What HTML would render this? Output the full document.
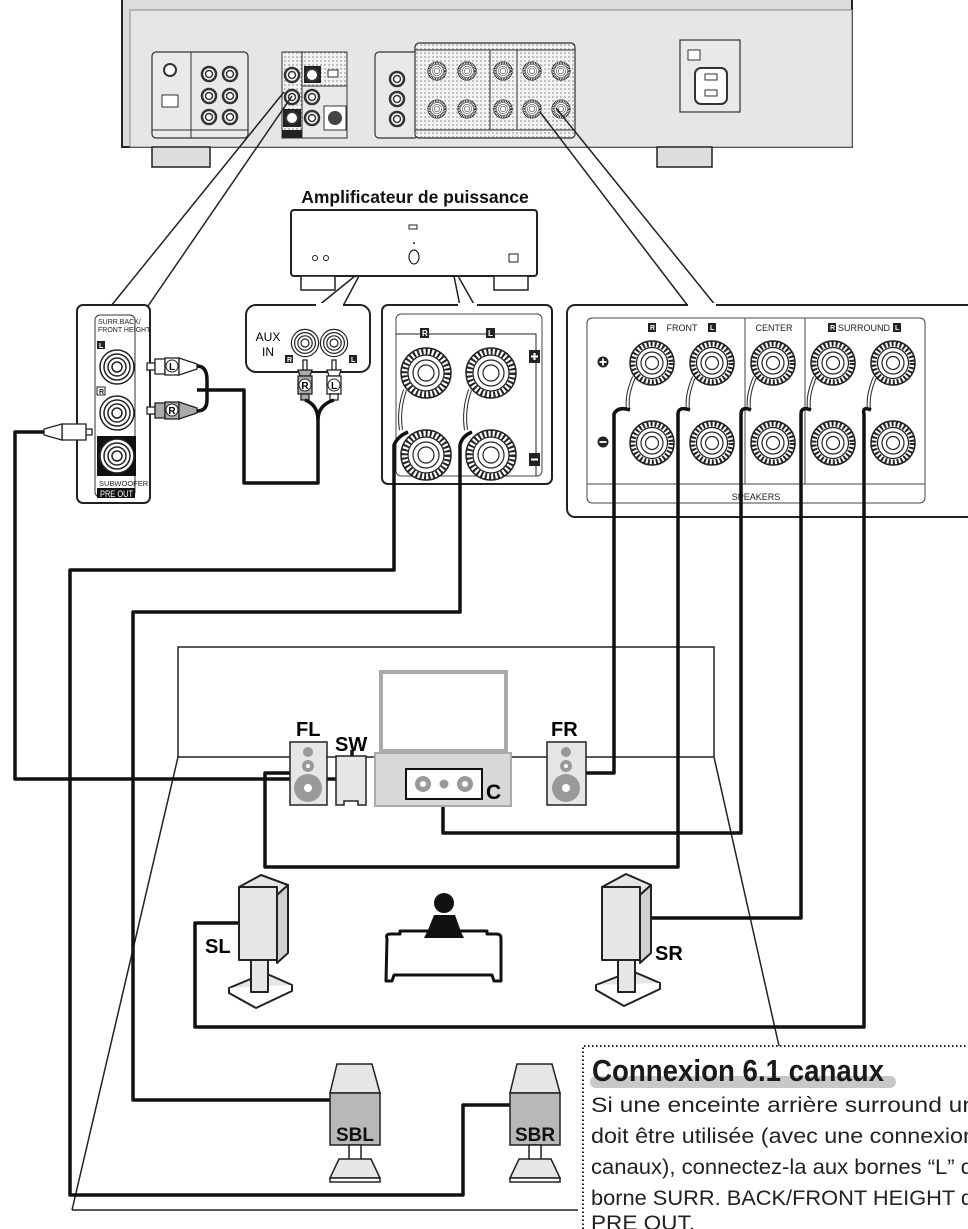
<!DOCTYPE html>
<html><head><meta charset="utf-8"><style>
html,body{margin:0;padding:0;background:#fff;}
svg{display:block;}
text{font-family:"Liberation Sans",sans-serif;}
</style></head><body>
<svg width="968" height="1229" viewBox="0 0 968 1229" xmlns="http://www.w3.org/2000/svg">
<defs>
<g id="term">
  <circle r="25" fill="#fff" stroke="#222" stroke-width="1.5"/>
  <circle r="21.5" fill="none" stroke="#222" stroke-width="6" stroke-dasharray="2 2.2"/>
  <circle r="18" fill="#fff" stroke="#222" stroke-width="1.2"/>
  <circle r="13" fill="none" stroke="#222" stroke-width="1.2"/>
  <circle r="8" fill="none" stroke="#222" stroke-width="1.2"/>
</g>
<g id="term2">
  <circle r="22" fill="#fff" stroke="#222" stroke-width="1.5"/>
  <circle r="19" fill="none" stroke="#222" stroke-width="5" stroke-dasharray="2 2"/>
  <circle r="15.5" fill="#fff" stroke="#222" stroke-width="1.2"/>
  <circle r="11" fill="none" stroke="#222" stroke-width="1.2"/>
  <circle r="6.5" fill="none" stroke="#222" stroke-width="1.2"/>
</g>
<g id="rca">
  <circle r="17" fill="#fff" stroke="#222" stroke-width="1.5"/>
  <circle r="13" fill="none" stroke="#222" stroke-width="1.5"/>
  <circle r="9" fill="none" stroke="#222" stroke-width="1.5"/>
  <circle r="5" fill="none" stroke="#222" stroke-width="1.5"/>
</g>
<g id="mini">
  <circle r="7" fill="#fff" stroke="#333" stroke-width="2.5"/>
  <circle r="3.5" fill="none" stroke="#333" stroke-width="1.5"/>
</g>
<pattern id="dots" width="4" height="4" patternUnits="userSpaceOnUse"><rect width="4" height="4" fill="#f2f2f2"/><circle cx="1" cy="1" r="0.7" fill="#777"/></pattern>
</defs>

<!-- Receiver -->
<rect x="122" y="-5" width="730" height="152" fill="#dcdcdc" stroke="#222" stroke-width="2"/>
<rect x="130" y="10" width="722" height="137" fill="#e6e6e6" stroke="#888" stroke-width="1"/>
<rect x="152" y="147" width="58" height="20" fill="#ddd" stroke="#222" stroke-width="1.5"/>
<rect x="657" y="147" width="55" height="20" fill="#ddd" stroke="#222" stroke-width="1.5"/>
<rect x="152" y="52" width="96" height="86" rx="4" fill="#e9e9e9" stroke="#333" stroke-width="1.2"/>
<line x1="191" y1="52" x2="191" y2="138" stroke="#333"/><line x1="152" y1="130" x2="248" y2="130" stroke="#333"/>
<circle cx="170" cy="70" r="6" fill="#fff" stroke="#333" stroke-width="2"/>
<rect x="162" y="95" width="16" height="12" fill="#fff" stroke="#333"/>
<use href="#mini" x="209" y="74"/><use href="#mini" x="230" y="74"/>
<use href="#mini" x="209" y="96"/><use href="#mini" x="230" y="96"/>
<use href="#mini" x="209" y="117"/><use href="#mini" x="230" y="117"/>
<rect x="282" y="52" width="20" height="86" fill="url(#dots)" stroke="#333"/>
<rect x="302" y="52" width="45" height="34" fill="url(#dots)" stroke="#333"/>
<rect x="302" y="86" width="45" height="52" fill="#e9e9e9" stroke="#333"/>
<rect x="282" y="130" width="20" height="8" fill="#222"/>
<rect x="283" y="109" width="18" height="18" fill="#222"/>
<use href="#mini" x="292" y="75"/><use href="#mini" x="292" y="97"/><circle cx="292" cy="118" r="6" fill="#fff" stroke="#333" stroke-width="2"/>
<rect x="304" y="66" width="17" height="17" fill="#222"/><circle cx="312" cy="75" r="6" fill="#fff" stroke="#333" stroke-width="2"/>
<use href="#mini" x="312" y="97"/><use href="#mini" x="312" y="118"/>
<rect x="324" y="106" width="22" height="24" fill="#fff" stroke="#333"/><circle cx="335" cy="118" r="7" fill="#444"/>
<rect x="328" y="70" width="10" height="7" fill="#fff" stroke="#333"/>
<rect x="375" y="52" width="43" height="86" rx="4" fill="#e9e9e9" stroke="#333" stroke-width="1.2"/>
<use href="#mini" x="397" y="79"/><use href="#mini" x="397" y="99"/><use href="#mini" x="397" y="119"/>
<rect x="415" y="43" width="160" height="95" rx="4" fill="url(#dots)" stroke="#333" stroke-width="1.2"/>
<line x1="415" y1="50" x2="575" y2="50" stroke="#333"/><line x1="415" y1="130" x2="575" y2="130" stroke="#333"/>
<line x1="490" y1="50" x2="490" y2="130" stroke="#333"/><line x1="517" y1="50" x2="517" y2="130" stroke="#333"/>
<g transform="translate(437,71) scale(0.42)"><use href="#term2"/></g><g transform="translate(467,71) scale(0.42)"><use href="#term2"/></g><g transform="translate(503,71) scale(0.42)"><use href="#term2"/></g><g transform="translate(532,71) scale(0.42)"><use href="#term2"/></g><g transform="translate(561,71) scale(0.42)"><use href="#term2"/></g>
<g transform="translate(437,109) scale(0.42)"><use href="#term2"/></g><g transform="translate(467,109) scale(0.42)"><use href="#term2"/></g><g transform="translate(503,109) scale(0.42)"><use href="#term2"/></g><g transform="translate(532,109) scale(0.42)"><use href="#term2"/></g><g transform="translate(561,109) scale(0.42)"><use href="#term2"/></g>
<rect x="680" y="40" width="60" height="72" fill="#e9e9e9" stroke="#333" stroke-width="1.2"/>
<rect x="688" y="50" width="12" height="10" fill="#fff" stroke="#333"/>
<rect x="695" y="68" width="32" height="36" rx="6" fill="#fff" stroke="#333" stroke-width="2"/>
<rect x="705" y="74" width="12" height="6" fill="none" stroke="#333"/><rect x="705" y="90" width="12" height="6" fill="none" stroke="#333"/>

<!-- leader lines -->
<g stroke="#222" stroke-width="1.5" fill="none">
<line x1="284" y1="92" x2="111" y2="306"/>
<line x1="292" y1="96" x2="148" y2="306"/>
<line x1="355" y1="276" x2="318" y2="306"/>
<line x1="359" y1="276" x2="343" y2="306"/>
<line x1="454" y1="276" x2="460" y2="306"/>
<line x1="458" y1="276" x2="475" y2="306"/>
<line x1="540" y1="112" x2="688" y2="306"/>
<line x1="556" y1="108" x2="716" y2="306"/>
</g>

<!-- Amp -->
<text x="415" y="203" font-size="17.5" font-weight="bold" text-anchor="middle" fill="#111">Amplificateur de puissance</text>
<rect x="291" y="210" width="246" height="66" rx="3" fill="#fff" stroke="#222" stroke-width="2"/>
<rect x="301" y="276" width="34" height="14" fill="#fff" stroke="#222" stroke-width="1.5"/>
<rect x="494" y="276" width="34" height="14" fill="#fff" stroke="#222" stroke-width="1.5"/>
<rect x="409" y="225" width="8" height="4" fill="none" stroke="#222"/>
<circle cx="414" cy="243" r="1" fill="#222"/>
<ellipse cx="414" cy="257" rx="5" ry="7" fill="none" stroke="#222" stroke-width="1.2"/>
<circle cx="315" cy="258" r="2.5" fill="none" stroke="#222"/><circle cx="326" cy="258" r="2.5" fill="none" stroke="#222"/>
<rect x="509" y="254" width="9" height="8" fill="none" stroke="#222"/>

<!-- Left panel -->
<rect x="77" y="305" width="73" height="198" rx="6" fill="#fff" stroke="#222" stroke-width="2"/>
<rect x="95" y="315" width="40" height="182" rx="5" fill="#fff" stroke="#333" stroke-width="1"/>
<text x="98" y="324" font-size="7" fill="#222">SURR.BACK/</text>
<text x="98" y="332" font-size="7" fill="#222">FRONT HEIGHT</text>
<rect x="97" y="341" width="8" height="8" fill="#222"/><text x="99" y="348" font-size="7" fill="#fff" font-weight="bold">L</text>
<use href="#rca" x="117" y="367"/>
<rect x="97" y="387" width="8" height="8" fill="#fff" stroke="#222"/><text x="99" y="394" font-size="7" fill="#222" font-weight="bold">R</text>
<use href="#rca" x="117" y="413"/>
<rect x="97" y="436" width="39" height="40" fill="#111"/>
<use href="#rca" x="117" y="456"/>
<text x="99" y="486" font-size="7.5" fill="#222">SUBWOOFER</text>
<rect x="97" y="488" width="38" height="10" fill="#111"/>
<text x="100" y="497" font-size="9" fill="#fff" textLength="33" lengthAdjust="spacingAndGlyphs">PRE OUT</text>
<g stroke="#222" stroke-width="1.3">
<rect x="147" y="363" width="8" height="7" fill="#fff"/><rect x="155" y="359" width="10" height="15" fill="#fff"/><rect x="165" y="358" width="14" height="17" fill="#fff"/><path d="M179 358 L197 364 V369 L179 375Z" fill="#fff"/>
<rect x="147" y="407" width="8" height="7" fill="#fff"/><rect x="155" y="403" width="10" height="15" fill="#aaa"/><rect x="165" y="402" width="14" height="17" fill="#aaa"/><path d="M179 402 L197 408 V413 L179 419Z" fill="#aaa"/>
</g>
<circle cx="172" cy="366" r="6" fill="#fff" stroke="#222"/><text x="172" y="370" font-size="10" font-weight="bold" text-anchor="middle">L</text>
<circle cx="172" cy="410" r="6" fill="#fff" stroke="#222"/><text x="172" y="414" font-size="10" font-weight="bold" text-anchor="middle">R</text>
<g stroke="#222" stroke-width="1.3" fill="#fff">
<rect x="86" y="429" width="6" height="6"/><rect x="62" y="424" width="24" height="16"/><path d="M62 424 L44 429 V435 L62 440Z"/>
</g>

<!-- AUX -->
<rect x="246" y="305" width="124" height="67" rx="10" fill="#fff" stroke="#222" stroke-width="2"/>
<rect x="316" y="303" width="27" height="4" fill="#fff"/>
<text x="268" y="341" font-size="12" text-anchor="middle">AUX</text>
<text x="268" y="356" font-size="12" text-anchor="middle">IN</text>
<g transform="translate(305,343) scale(0.8)"><use href="#rca"/></g>
<g transform="translate(334,343) scale(0.8)"><use href="#rca"/></g>
<rect x="285" y="355" width="8" height="8" fill="#222"/><text x="287" y="362" font-size="7" fill="#fff" font-weight="bold">R</text>
<rect x="349" y="355" width="8" height="8" fill="#222"/><text x="351" y="362" font-size="7" fill="#fff" font-weight="bold">L</text>
<g stroke="#222" stroke-width="1.3">
<rect x="303" y="360" width="4" height="10" fill="#fff"/><path d="M298 370 L312 370 L310 376 H300Z" fill="#aaa"/><rect x="298" y="376" width="14" height="18" fill="#aaa"/><rect x="301" y="394" width="8" height="6" fill="#aaa"/>
<rect x="332" y="360" width="4" height="10" fill="#fff"/><path d="M327 370 L341 370 L339 376 H329Z" fill="#fff"/><rect x="327" y="376" width="14" height="18" fill="#fff"/><rect x="330" y="394" width="8" height="6" fill="#fff"/>
</g>
<circle cx="305" cy="385" r="6" fill="#fff" stroke="#222"/><text x="305" y="389" font-size="10" font-weight="bold" text-anchor="middle">R</text>
<circle cx="334" cy="385" r="6" fill="#fff" stroke="#222"/><text x="334" y="389" font-size="10" font-weight="bold" text-anchor="middle">L</text>

<!-- Amp speaker panel -->
<rect x="382" y="305" width="170" height="179" rx="6" fill="#fff" stroke="#222" stroke-width="2"/>
<rect x="458" y="303" width="19" height="4" fill="#fff"/>
<rect x="396" y="314" width="146" height="162" rx="5" fill="none" stroke="#444" stroke-width="1"/>
<path d="M396 334 H536 V476" fill="none" stroke="#222" stroke-width="1"/>
<rect x="420" y="328" width="9" height="10" fill="#222"/><text x="422" y="336" font-size="8" fill="#fff" font-weight="bold">R</text>
<rect x="486" y="328" width="9" height="10" fill="#222"/><text x="488" y="336" font-size="8" fill="#fff" font-weight="bold">L</text>
<use href="#term" x="426" y="373"/><use href="#term" x="491" y="373"/>
<use href="#term" x="426" y="455"/><use href="#term" x="491" y="455"/>
<rect x="529" y="350" width="11" height="13" fill="#222"/><path d="M531 356.5 h7 M534.5 353 v7" stroke="#fff" stroke-width="2"/>
<rect x="529" y="453" width="11" height="13" fill="#222"/><path d="M531 459.5 h7" stroke="#fff" stroke-width="2"/>

<!-- Receiver speakers callout -->
<rect x="567" y="305" width="410" height="212" rx="8" fill="#fff" stroke="#222" stroke-width="2"/>
<rect x="688" y="303" width="28" height="4" fill="#fff"/>
<rect x="587" y="318" width="338" height="185" rx="5" fill="none" stroke="#444" stroke-width="1"/>
<line x1="745" y1="318" x2="745" y2="484" stroke="#444"/><line x1="805" y1="318" x2="805" y2="484" stroke="#444"/>
<line x1="587" y1="484" x2="925" y2="484" stroke="#444"/>
<rect x="648" y="323" width="8" height="9" fill="#222"/><text x="650" y="330" font-size="7" fill="#fff" font-weight="bold">R</text>
<text x="682" y="331" font-size="9" fill="#222" text-anchor="middle">FRONT</text>
<rect x="708" y="323" width="8" height="9" fill="#222"/><text x="710" y="330" font-size="7" fill="#fff" font-weight="bold">L</text>
<text x="774" y="331" font-size="9" fill="#222" text-anchor="middle">CENTER</text>
<rect x="828" y="323" width="8" height="9" fill="#222"/><text x="830" y="330" font-size="7" fill="#fff" font-weight="bold">R</text>
<text x="864" y="331" font-size="9" fill="#222" text-anchor="middle">SURROUND</text>
<rect x="893" y="323" width="8" height="9" fill="#222"/><text x="895" y="330" font-size="7" fill="#fff" font-weight="bold">L</text>
<text x="756" y="500" font-size="9" fill="#222" text-anchor="middle">SPEAKERS</text>
<circle cx="603" cy="362" r="5.5" fill="#222"/><path d="M599.5 362 h7 M603 358.5 v7" stroke="#fff" stroke-width="1.8"/>
<circle cx="603" cy="442" r="5.5" fill="#222"/><path d="M599.5 442 h7" stroke="#fff" stroke-width="1.8"/>
<use href="#term2" x="652" y="363"/><use href="#term2" x="712" y="363"/><use href="#term2" x="773" y="363"/><use href="#term2" x="833" y="363"/><use href="#term2" x="893" y="363"/>
<use href="#term2" x="652" y="443"/><use href="#term2" x="712" y="443"/><use href="#term2" x="773" y="443"/><use href="#term2" x="833" y="443"/><use href="#term2" x="893" y="443"/>

<g fill="none" stroke="#222" stroke-width="4">
<path d="M634 377 Q626 395 628 410"/><path d="M694 377 Q686 395 688 410"/><path d="M755 377 Q747 395 749 410"/><path d="M815 377 Q807 395 809 410"/><path d="M875 377 Q867 395 869 410"/>
<path d="M405 390 Q398 410 401 430"/><path d="M470 390 Q463 410 466 430"/>
</g>
<g fill="none" stroke="#fff" stroke-width="2">
<path d="M634 377 Q626 395 628 410"/><path d="M694 377 Q686 395 688 410"/><path d="M755 377 Q747 395 749 410"/><path d="M815 377 Q807 395 809 410"/><path d="M875 377 Q867 395 869 410"/>
<path d="M405 390 Q398 410 401 430"/><path d="M470 390 Q463 410 466 430"/>
</g>

<!-- Room -->
<g fill="none" stroke="#222" stroke-width="1.5">
<path d="M178 757 V647 H714 V757"/>
<line x1="178" y1="757" x2="714" y2="757"/>
<line x1="178" y1="757" x2="72" y2="1210"/>
<line x1="714" y1="757" x2="779" y2="1046"/>
<line x1="72" y1="1210" x2="578" y2="1210"/>
</g>

<!-- Thick cables -->
<g fill="none" stroke="#111" stroke-width="3.5" stroke-linejoin="round">
<path d="M197 390 H244 V483 H318 V420 Q318 405 305 400"/>
<path d="M318 420 Q318 405 334 400"/>
<path d="M197 366 Q207 366 207 380 V400 Q207 411 197 411"/>
<path d="M44 432 H15 V779 H352 V750"/>
<path d="M408 432 Q398 436 394 445 V570 H70 V1195 H463 V1105 H512"/>
<path d="M472 432 Q462 436 460 445 V612 H133 V1100 H331"/>
<path d="M630 410 Q618 406 614 414 V773 H586"/>
<path d="M690 410 Q678 406 678 414 V867 H265 V773 H290"/>
<path d="M751 410 Q741 406 741 414 V833 H443 V806"/>
<path d="M811 410 Q801 406 801 414 V918 H651"/>
<path d="M871 410 Q862 406 864 414 V1027 H195 V923 H239"/>
</g>

<!-- TV & stand -->
<rect x="381" y="672" width="125" height="79" fill="#fff" stroke="#aaa" stroke-width="4"/>
<rect x="375" y="753" width="136" height="53" fill="#d8d8d8" stroke="#aaa" stroke-width="2"/>
<rect x="406" y="769" width="76" height="30" fill="#fff" stroke="#111" stroke-width="2"/>
<circle cx="423" cy="784" r="8" fill="#999"/><circle cx="423" cy="784" r="3" fill="#fff"/>
<circle cx="444" cy="784" r="4.5" fill="#999"/>
<circle cx="465" cy="784" r="8" fill="#999"/><circle cx="465" cy="784" r="3" fill="#fff"/>
<text x="486" y="799" font-size="21" font-weight="bold">C</text>
<rect x="290" y="742" width="37" height="63" fill="#e6e6e6" stroke="#222" stroke-width="1.5"/>
<circle cx="308" cy="752" r="5" fill="#999"/><circle cx="308" cy="766" r="6" fill="#999"/><circle cx="308" cy="788" r="14" fill="#999"/><circle cx="308" cy="788" r="4" fill="#fff"/><circle cx="308" cy="766" r="2" fill="#fff"/>
<text x="296" y="736" font-size="20" font-weight="bold">FL</text>
<path d="M336 756 H366 V805 H358 V801 H344 V805 H336Z" fill="#e6e6e6" stroke="#222" stroke-width="1.5"/>
<text x="335" y="751" font-size="20" font-weight="bold">SW</text>
<rect x="547" y="742" width="39" height="63" fill="#e6e6e6" stroke="#222" stroke-width="1.5"/>
<circle cx="566" cy="752" r="5" fill="#999"/><circle cx="566" cy="766" r="6" fill="#999"/><circle cx="566" cy="788" r="14" fill="#999"/><circle cx="566" cy="788" r="4" fill="#fff"/><circle cx="566" cy="766" r="2" fill="#fff"/>
<text x="551" y="736" font-size="20" font-weight="bold">FR</text>

<!-- SL -->
<g stroke="#222" stroke-width="2" stroke-linejoin="round">
<path d="M229 988 L265 973 L292 985 L256 1002Z" fill="#e6e6e6"/>
<path d="M229 988 V993 L256 1008 L292 991 V985" fill="#fff"/>
<rect x="251" y="958" width="17" height="34" fill="#e6e6e6"/>
<path d="M239 887 L261 875 L288 885 L277 895Z" fill="#e6e6e6"/>
<path d="M277 895 L288 885 V953 L277 963Z" fill="#d0d0d0"/>
<rect x="239" y="887" width="38" height="73" fill="#e6e6e6"/>
</g>
<text x="205" y="953" font-size="20" font-weight="bold">SL</text>
<!-- SR -->
<g stroke="#222" stroke-width="2" stroke-linejoin="round">
<path d="M596 985 L632 971 L660 983 L624 1000Z" fill="#e6e6e6"/>
<path d="M596 985 V990 L624 1006 L660 989 V983" fill="#fff"/>
<rect x="618" y="958" width="17" height="34" fill="#e6e6e6"/>
<path d="M602 887 L626 874 L651 885 L640 895Z" fill="#e6e6e6"/>
<path d="M640 895 L651 885 V953 L640 963Z" fill="#d0d0d0"/>
<rect x="602" y="887" width="38" height="73" fill="#e6e6e6"/>
</g>
<text x="655" y="960" font-size="20" font-weight="bold">SR</text>
<circle cx="444" cy="903" r="10" fill="#111"/>
<path d="M434 915 H455 L464 940 H424Z" fill="#111"/>
<path d="M387 938 Q385 934 391 934 H400 V931 H487 V934 H496 Q501 934 501 938 V981 H494 L492 975 H394 L392 981 H386Z" fill="#fff" stroke="#111" stroke-width="3" stroke-linejoin="round"/>
<path d="M424 938 L428 930 H460 L464 938Z" fill="#111"/>

<!-- SBL / SBR -->
<g stroke="#222" stroke-width="1.5">
<path d="M337 1064 H372 L380 1093 H330Z" fill="#e6e6e6"/>
<rect x="330" y="1093" width="50" height="52" fill="#b8b8b8"/>
<rect x="349" y="1145" width="12" height="22" fill="#fff"/>
<path d="M339 1159 H371 L380 1178 H330Z" fill="#e6e6e6"/><rect x="330" y="1178" width="50" height="4" fill="#fff"/>
<path d="M517 1064 H552 L560 1093 H510Z" fill="#e6e6e6"/>
<rect x="510" y="1093" width="50" height="52" fill="#b8b8b8"/>
<rect x="529" y="1145" width="12" height="22" fill="#fff"/>
<path d="M519 1159 H551 L560 1178 H510Z" fill="#e6e6e6"/><rect x="510" y="1178" width="50" height="4" fill="#fff"/>
</g>
<text x="355" y="1141" font-size="19" font-weight="bold" text-anchor="middle" fill="#111">SBL</text>
<text x="535" y="1141" font-size="19" font-weight="bold" text-anchor="middle" fill="#111">SBR</text>

<!-- Note box -->
<path d="M583 1229 V1046 H968" fill="none" stroke="#222" stroke-width="2" stroke-dasharray="1.5 2.5"/>
<rect x="590" y="1076" width="306" height="12" rx="6" fill="#c8c8c8"/>
<text x="592" y="1081" font-size="31" font-weight="bold" fill="#1a1a1a" textLength="292" lengthAdjust="spacingAndGlyphs">Connexion 6.1 canaux</text>
<g font-size="21" fill="#222">
<text x="591" y="1112" textLength="385" lengthAdjust="spacingAndGlyphs">Si une enceinte arrière surround un</text>
<text x="591" y="1143" textLength="385" lengthAdjust="spacingAndGlyphs">doit être utilisée (avec une connexion</text>
<text x="591" y="1174" textLength="382" lengthAdjust="spacingAndGlyphs">canaux), connectez-la aux bornes “L” d</text>
<text x="591" y="1205" textLength="382" lengthAdjust="spacingAndGlyphs">borne SURR. BACK/FRONT HEIGHT d</text>
<text x="591" y="1230" textLength="104" lengthAdjust="spacingAndGlyphs">PRE OUT.</text>
</g>
</svg>
</body></html>
